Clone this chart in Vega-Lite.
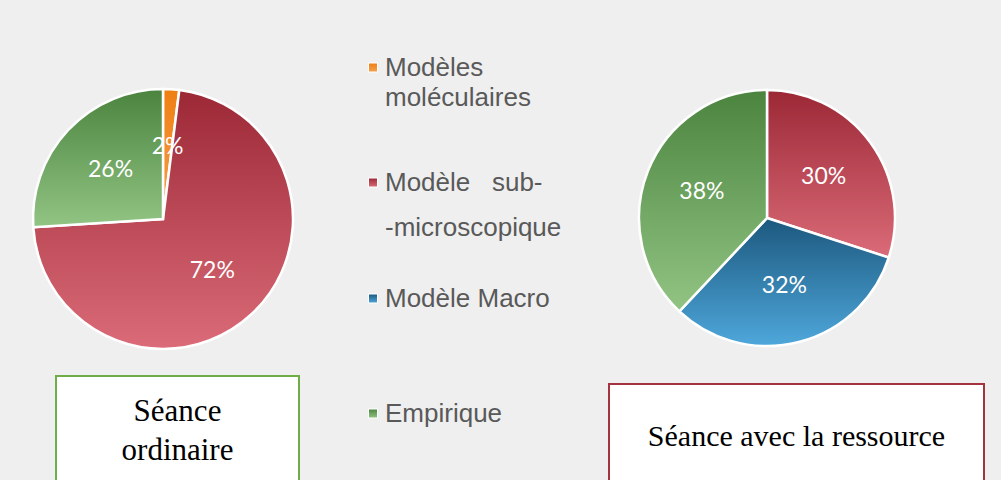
{
  "$schema": "https://vega.github.io/schema/vega-lite/v6.json",
  "background": "#efefef",
  "padding": {"left": 28, "top": 10, "right": 20, "bottom": 0},
  "spacing": 308,
  "config": {
    "view": {"stroke": null},
    "style": {"guide-label": {"lineHeight": 15}}
  },
  "datasets": {
    "parts": [
      {"seance": "Séance ordinaire", "categorie": "Modèles moléculaires", "ordre": 1, "valeur": 0.02},
      {"seance": "Séance ordinaire", "categorie": "Modèle sub-microscopique", "ordre": 2, "valeur": 0.72},
      {"seance": "Séance ordinaire", "categorie": "Empirique", "ordre": 4, "valeur": 0.26},
      {"seance": "Séance avec la ressource", "categorie": "Modèle sub-microscopique", "ordre": 2, "valeur": 0.30},
      {"seance": "Séance avec la ressource", "categorie": "Modèle Macro", "ordre": 3, "valeur": 0.32},
      {"seance": "Séance avec la ressource", "categorie": "Empirique", "ordre": 4, "valeur": 0.38}
    ],
    "vide": []
  },
  "hconcat": [
    {
      "spacing": 0,
      "vconcat": [
        {
          "width": 1,
          "height": 10,
          "data": {"name": "vide"},
          "mark": "text",
          "encoding": {}
        },
        {
          "width": 264,
          "height": 312,
          "data": {"name": "parts"},
          "transform": [{"filter": "datum.seance === 'Séance ordinaire'"}],
          "encoding": {
            "theta": {"field": "valeur", "type": "quantitative", "stack": true},
            "order": {"field": "ordre", "type": "quantitative", "sort": "ascending"}
          },
          "layer": [
            {
              "mark": {"type": "arc", "outerRadius": 130, "stroke": "white", "strokeWidth": 2.5},
              "encoding": {
                "color": {
                  "field": "categorie",
                  "type": "nominal",
                  "scale": {
                    "domain": ["Modèles moléculaires", "Modèle sub-microscopique", "Modèle Macro", "Empirique"],
                    "range": [
                      {"expr": "{gradient:'linear',x1:0,y1:0,x2:0,y2:1,stops:[{offset:0,color:'#ef7f12'},{offset:1,color:'#f5a04e'}]}"},
                      {"expr": "{gradient:'linear',x1:0,y1:0,x2:0,y2:1,stops:[{offset:0,color:'#9c2836'},{offset:1,color:'#db6b78'}]}"},
                      {"expr": "{gradient:'linear',x1:0,y1:0,x2:0,y2:1,stops:[{offset:0,color:'#1c587e'},{offset:1,color:'#4ea7db'}]}"},
                      {"expr": "{gradient:'linear',x1:0,y1:0,x2:0,y2:1,stops:[{offset:0,color:'#4b843f'},{offset:1,color:'#92c483'}]}"}
                    ]
                  },
                  "legend": {
                    "orient": "none",
                    "legendX": 329,
                    "legendY": -43,
                    "title": null,
                    "direction": "vertical",
                    "symbolType": "square",
                    "symbolSize": 81,
                    "symbolStrokeWidth": 1,
                    "symbolStrokeColor": "white",
                    "labelFont": "Liberation Sans",
                    "labelFontSize": 26,
                    "labelColor": "#595959",
                    "labelLimit": 0,
                    "labelOffset": -1,
                    "clipHeight": 115,
                    "rowPadding": 0,
                    "padding": 0,
                    "labelBaseline": "middle",
                    "labelExpr": "datum.label === 'Modèles moléculaires' ? ['Modèles', '\u200b', 'moléculaires'] : datum.label === 'Modèle sub-microscopique' ? ['Modèle\u00a0\u00a0\u00a0sub-', '\u200b', '\u200b', '-microscopique'] : datum.label"
                  }
                }
              }
            },
            {
              "mark": {"type": "text", "radius": 72, "font": "Lato", "fontSize": 23, "color": "white"},
              "encoding": {
                "text": {"field": "valeur", "type": "quantitative", "format": ".0%"}
              }
            }
          ]
        },
        {
          "spacing": 0,
          "hconcat": [
            {
              "width": 24,
              "height": 1,
              "data": {"name": "vide"},
              "mark": "text",
              "encoding": {}
            },
            {
              "width": 243,
              "height": 120,
              "view": {"fill": "white", "stroke": "#70AD47", "strokeWidth": 2},
              "data": {"name": "parts"},
              "transform": [
                {"filter": "datum.seance === 'Séance ordinaire'"},
                {"aggregate": [{"op": "count", "as": "n"}], "groupby": ["seance"]}
              ],
              "mark": {"type": "text", "font": "Liberation Serif", "fontSize": 31, "color": "black", "lineBreak": " ", "lineHeight": 39, "baseline": "middle", "dy": -24},
              "encoding": {"text": {"field": "seance", "type": "nominal"}}
            }
          ]
        }
      ]
    },
    {
      "spacing": 0,
      "vconcat": [
        {
          "width": 316,
          "height": 330,
          "data": {"name": "parts"},
          "transform": [{"filter": "datum.seance === 'Séance avec la ressource'"}],
          "encoding": {
            "theta": {"field": "valeur", "type": "quantitative", "stack": true},
            "order": {"field": "ordre", "type": "quantitative", "sort": "ascending"}
          },
          "layer": [
            {
              "mark": {"type": "arc", "outerRadius": 128, "stroke": "white", "strokeWidth": 2.5},
              "encoding": {
                "color": {
                  "field": "categorie",
                  "type": "nominal",
                  "scale": {
                    "domain": ["Modèles moléculaires", "Modèle sub-microscopique", "Modèle Macro", "Empirique"],
                    "range": [
                      {"expr": "{gradient:'linear',x1:0,y1:0,x2:0,y2:1,stops:[{offset:0,color:'#ef7f12'},{offset:1,color:'#f5a04e'}]}"},
                      {"expr": "{gradient:'linear',x1:0,y1:0,x2:0,y2:1,stops:[{offset:0,color:'#9c2836'},{offset:1,color:'#db6b78'}]}"},
                      {"expr": "{gradient:'linear',x1:0,y1:0,x2:0,y2:1,stops:[{offset:0,color:'#1c587e'},{offset:1,color:'#4ea7db'}]}"},
                      {"expr": "{gradient:'linear',x1:0,y1:0,x2:0,y2:1,stops:[{offset:0,color:'#4b843f'},{offset:1,color:'#92c483'}]}"}
                    ]
                  },
                  "legend": {
                    "orient": "none",
                    "legendX": 329,
                    "legendY": -43,
                    "title": null,
                    "direction": "vertical",
                    "symbolType": "square",
                    "symbolSize": 81,
                    "symbolStrokeWidth": 1,
                    "symbolStrokeColor": "white",
                    "labelFont": "Liberation Sans",
                    "labelFontSize": 26,
                    "labelColor": "#595959",
                    "labelLimit": 0,
                    "labelOffset": -1,
                    "clipHeight": 115,
                    "rowPadding": 0,
                    "padding": 0,
                    "labelBaseline": "middle",
                    "labelExpr": "datum.label === 'Modèles moléculaires' ? ['Modèles', '\u200b', 'moléculaires'] : datum.label === 'Modèle sub-microscopique' ? ['Modèle\u00a0\u00a0\u00a0sub-', '\u200b', '\u200b', '-microscopique'] : datum.label"
                  }
                }
              }
            },
            {
              "mark": {"type": "text", "radius": 70, "font": "Lato", "fontSize": 23, "color": "white"},
              "encoding": {
                "text": {"field": "valeur", "type": "quantitative", "format": ".0%"}
              }
            }
          ]
        },
        {
          "width": 375,
          "height": 120,
          "view": {"fill": "white", "stroke": "#A5323F", "strokeWidth": 2},
          "data": {"name": "parts"},
          "transform": [
            {"filter": "datum.seance === 'Séance avec la ressource'"},
            {"aggregate": [{"op": "count", "as": "n"}], "groupby": ["seance"]}
          ],
          "mark": {"type": "text", "font": "Liberation Serif", "fontSize": 30, "color": "black", "baseline": "middle", "dy": -7},
          "encoding": {"text": {"field": "seance", "type": "nominal"}}
        }
      ]
    }
  ]
}
